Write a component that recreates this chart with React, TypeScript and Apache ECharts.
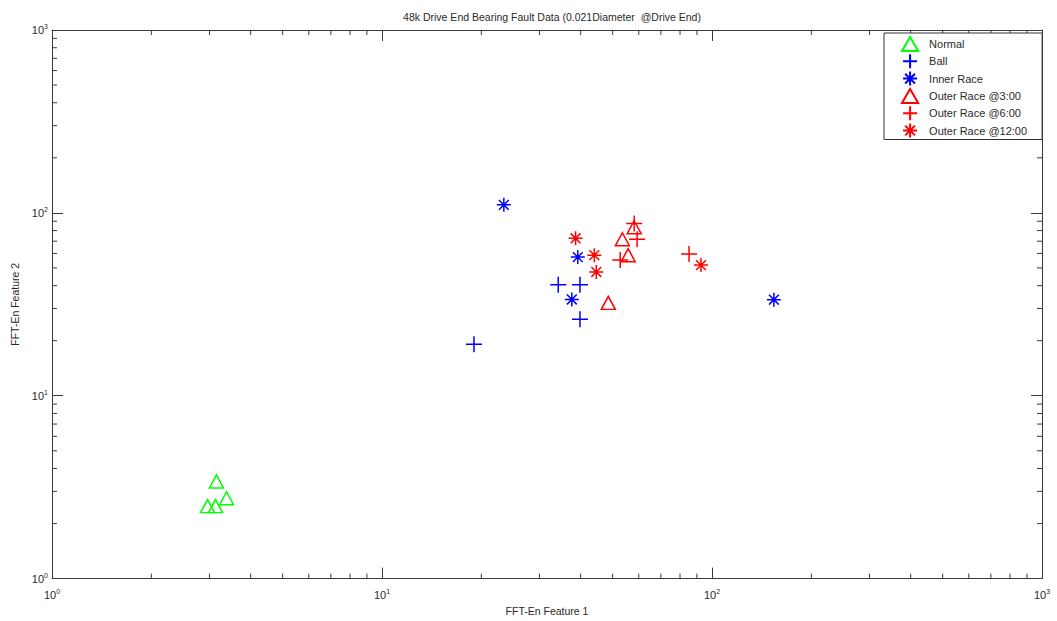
import React, { useEffect, useRef } from 'react';
import * as echarts from 'echarts';

// ---- data ----
const normalX = [3.15, 3.38, 2.96, 3.13];
const normalY = [3.4, 2.75, 2.49, 2.49];

const ballX = [19.0, 34.2, 39.8, 39.8];
const ballY = [19.1, 40.4, 40.4, 26.2];

const innerX = [23.4, 39.2, 37.6, 154];
const innerY = [110.6, 57.3, 33.6, 33.5];

const outer3X = [53.5, 58.1, 55.7, 48.5];
const outer3Y = [71.7, 83.4, 58.7, 32.2];

const outer6X = [58.1, 59.3, 52.7, 85.2];
const outer6Y = [87.6, 71.7, 55.2, 59.5];

const outer12X = [38.6, 44.0, 44.6, 92.6];
const outer12Y = [72.6, 58.7, 47.5, 51.8];

const minorTickValues = [2, 3, 4, 5, 6, 7, 8, 9, 20, 30, 40, 50, 60, 70, 80, 90, 200, 300, 400, 500, 600, 700, 800, 900];

const titleText = '48k Drive End Bearing Fault Data (0.021Diameter  @Drive End)';
const xName = 'FFT-En Feature 1';
const yName = 'FFT-En Feature 2';

const seriesNames = ['Normal', 'Ball', 'Inner Race', 'Outer Race @3:00', 'Outer Race @6:00', 'Outer Race @12:00'];

// ---- styles ----
const FONT = '"Liberation Sans", Arial, sans-serif';
const AXIS = '#3a3a3a';
const TXT = '#2a2a2a';
const GREEN = '#00ff00';
const BLUE = '#0000ff';
const RED = '#ff0000';

const TRI = 'path://M5,0L10,8.66L0,8.66Z';
const PLUS = 'path://M0,5L10,5M5,0L5,10';
const STAR = 'path://M0,5L10,5M5,0L5,10M1.5,1.5L8.5,8.5M8.5,1.5L1.5,8.5';

const zip = (xs: number[], ys: number[]) => xs.map((x, i) => [x, ys[i]]);

const labelFmt = (v: number) => `{b|10}{s|${Math.round(Math.log10(v))}}`;
const rich = {
  b: { fontSize: 11, color: TXT, fontFamily: FONT },
  s: { fontSize: 7, color: TXT, fontFamily: FONT, padding: [0, 0, 7, 0] },
};

function scatter(name: string, xs: number[], ys: number[], symbol: string, size: number | number[], color: string) {
  return {
    type: 'scatter',
    name,
    data: zip(xs, ys),
    symbol,
    symbolSize: size,
    itemStyle: { color: 'rgba(0,0,0,0)', borderColor: color, borderWidth: 1.5, opacity: 1 },
    emphasis: { disabled: true },
    z: 3,
  };
}

export default function App() {
  const ref = useRef<HTMLDivElement>(null);

  useEffect(() => {
    if (!ref.current) return;
    const chart = echarts.init(ref.current, undefined, { renderer: 'svg' });

    const logAxisBase = {
      type: 'log',
      logBase: 10,
      min: 1,
      max: 1000,
      splitLine: { show: false },
      axisLine: { show: true, onZero: false, lineStyle: { color: AXIS, width: 1 } },
      axisTick: { show: true, inside: true, length: 11, lineStyle: { color: AXIS, width: 1 } },
    };

    const option: any = {
      animation: false,
      backgroundColor: '#ffffff',
      title: {
        text: titleText,
        left: 547,
        top: 6,
        textAlign: 'center',
        textStyle: { fontFamily: FONT, fontSize: 10.5, fontWeight: 'normal', color: TXT },
      },
      grid: { left: 52, right: 15, top: 30, bottom: 36, containLabel: false },
      legend: {
        data: seriesNames,
        orient: 'vertical',
        left: 884,
        top: 33,
        itemWidth: 28,
        itemHeight: 14,
        itemGap: 1.3,
        padding: [3, 15, 1, 17],
        backgroundColor: '#ffffff',
        borderColor: '#333',
        borderWidth: 1,
        borderRadius: 0,
        selectedMode: false,
        textStyle: { fontFamily: FONT, fontSize: 11, color: TXT, lineHeight: 14 },
      },
      xAxis: [
        {
          ...logAxisBase,
          position: 'bottom',
          axisLabel: { formatter: labelFmt, rich, margin: 9 },
          name: xName,
          nameLocation: 'middle',
          nameGap: 26,
          nameTextStyle: { fontFamily: FONT, fontSize: 10.5, color: TXT },
        },
        {
          ...logAxisBase,
          position: 'top',
          axisLabel: { show: false },
        },
      ],
      yAxis: [
        {
          ...logAxisBase,
          position: 'left',
          axisLabel: { formatter: labelFmt, rich, margin: 4 },
          name: yName,
          nameLocation: 'middle',
          nameGap: 25,
          nameTextStyle: { fontFamily: FONT, fontSize: 10.5, color: TXT },
        },
        {
          ...logAxisBase,
          position: 'right',
          axisLabel: { show: false },
        },
      ],
      series: [
        scatter(seriesNames[0], normalX, normalY, TRI, [14, 13], GREEN),
        scatter(seriesNames[1], ballX, ballY, PLUS, 16, BLUE),
        scatter(seriesNames[2], innerX, innerY, STAR, 14, BLUE),
        scatter(seriesNames[3], outer3X, outer3Y, TRI, [14, 13], RED),
        scatter(seriesNames[4], outer6X, outer6Y, PLUS, 16, RED),
        scatter(seriesNames[5], outer12X, outer12Y, STAR, 14, RED),
        {
          type: 'custom',
          name: 'xMinor',
          silent: true,
          clip: false,
          data: minorTickValues.map((v) => [v, 1]),
          renderItem: (params: any, api: any) => {
            const p = api.coord([api.value(0), 1]);
            const cs = params.coordSys;
            const st = { stroke: AXIS, lineWidth: 1 };
            return {
              type: 'group',
              children: [
                { type: 'line', shape: { x1: p[0], y1: cs.y + cs.height, x2: p[0], y2: cs.y + cs.height - 5 }, style: st },
                { type: 'line', shape: { x1: p[0], y1: cs.y, x2: p[0], y2: cs.y + 5 }, style: st },
              ],
            };
          },
          z: 1,
        },
        {
          type: 'custom',
          name: 'yMinor',
          silent: true,
          clip: false,
          data: minorTickValues.map((v) => [1, v]),
          renderItem: (params: any, api: any) => {
            const p = api.coord([1, api.value(1)]);
            const cs = params.coordSys;
            const st = { stroke: AXIS, lineWidth: 1 };
            return {
              type: 'group',
              children: [
                { type: 'line', shape: { x1: cs.x, y1: p[1], x2: cs.x + 5, y2: p[1] }, style: st },
                { type: 'line', shape: { x1: cs.x + cs.width, y1: p[1], x2: cs.x + cs.width - 5, y2: p[1] }, style: st },
              ],
            };
          },
          z: 1,
        },
      ],
    };

    chart.setOption(option);
    return () => chart.dispose();
  }, []);

  return (
    <div
      ref={ref}
      style={{ position: 'fixed', left: 0, top: 0, width: 1057, height: 621, background: '#fff' }}
    />
  );
}
